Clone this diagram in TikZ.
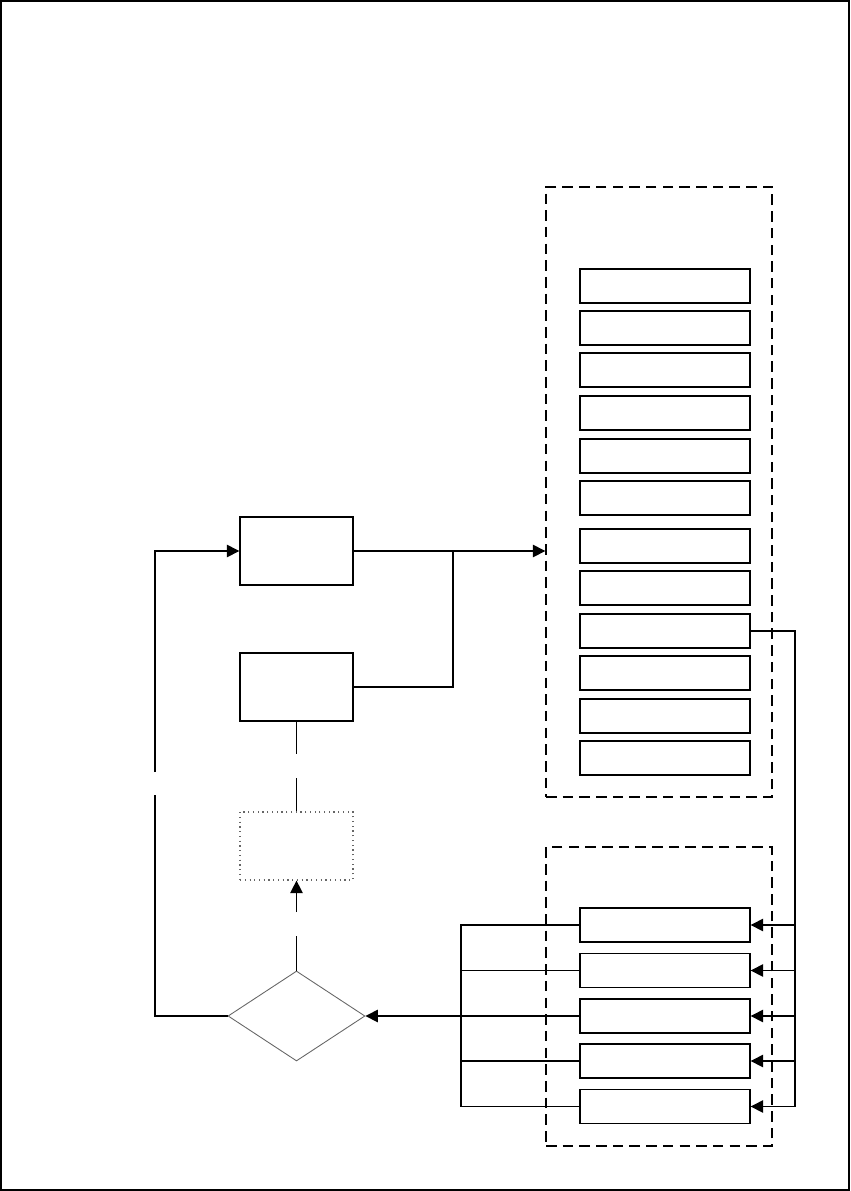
\documentclass[tikz,border=0pt]{standalone}
\usepackage{tikz}
\usetikzlibrary{shapes.geometric, arrows.meta, positioning, calc}
\tikzset{
	blk/.style      ={rectangle, draw=black, line width=0.8pt, minimum width=2.26cm, minimum height=1.36cm, inner sep=0pt},
	ghost/.style    ={rectangle, draw=black!60, dotted, line width=0.7pt, minimum width=2.26cm, minimum height=1.36cm, inner sep=0pt},
	rowbox/.style   ={rectangle, draw=black, line width=0.8pt, minimum width=3.4cm, minimum height=0.68cm, inner sep=0pt},
	decision/.style ={diamond, draw=black!60, line width=0.5pt, minimum width=2.74cm, minimum height=1.8cm, inner sep=0pt},
	group/.style    ={rectangle, draw=black, line width=0.8pt, dash pattern=on 6pt off 3.5pt, minimum width=4.52cm, inner sep=0pt},
	sig/.style      ={-{Triangle[length=2.5mm, width=2.5mm]}, line width=0.8pt},
	wire/.style     ={line width=0.8pt},
}

\begin{document}
\begin{tikzpicture}[x=0.02cm, y=-0.02cm]
	\useasboundingbox (0,0) rectangle (850,1191);
	\draw[line width=0.9pt] (1,1) rectangle (849,1190);
	% left column
	\node[blk] (a) at (296.5,551) {};
	\node[blk] (b) at (296.5,687) {};
	\node[ghost] (c) at (296.5,846) {};
	\node[decision] (d) at (296.5,1016) {};
	% groups on the right
	\node[group, minimum height=12.2cm] (up) at (659,492) {};
	\node[group, minimum height=5.98cm] (lo) at (659,996.5) {};
	\foreach \i/\y in {1/286,2/328,3/370,4/413,5/456,6/498,7/546,8/588,9/631,10/673,11/716,12/758}
		\node[rowbox] (r\i) at (665,\y) {};
	\foreach \i/\y in {1/925,2/970.5,3/1016,4/1061,5/1106.5}
		\node[rowbox] (l\i) at (665,\y) {};
	% junctions and line breaks
	\coordinate (jn) at (453,551);
	\coordinate (busR) at (795,1106.5);
	\coordinate (busL) at (461,1106.5);
	\coordinate (gl1) at (155,795);
	\coordinate (gl2) at (155,772);
	\coordinate (gb1) at (296.5,754);
	\coordinate (gb2) at (296.5,778);
	\coordinate (gc1) at (296.5,912);
	\coordinate (gc2) at (296.5,936);
	% connectors
	\draw[sig] (a.east) -- (a.east -| up.west);
	\draw[wire] (b.east) -| (jn);
	\draw[wire] (r9.east) -| (busR);
	\foreach \i in {1,...,5}
		\draw[sig] (l\i.east -| busR) -- (l\i.east);
	\draw[wire] (l1.west) -| (busL) -- (l5.west);
	\foreach \i in {2,4}
		\draw[wire] (l\i.west) -- (l\i.west -| busL);
	\draw[sig] (l3.west) -- (d.east);
	\draw[wire] (d.west) -| (gl1);
	\draw[sig] (gl2) |- (a.west);
	\draw[wire] (b.south) -- (gb1);
	\draw[wire] (gb2) -- (c.north);
	\draw[sig] (gc1) -- (c.south);
	\draw[wire] (d.north) -- (gc2);
\end{tikzpicture}
\end{document}
